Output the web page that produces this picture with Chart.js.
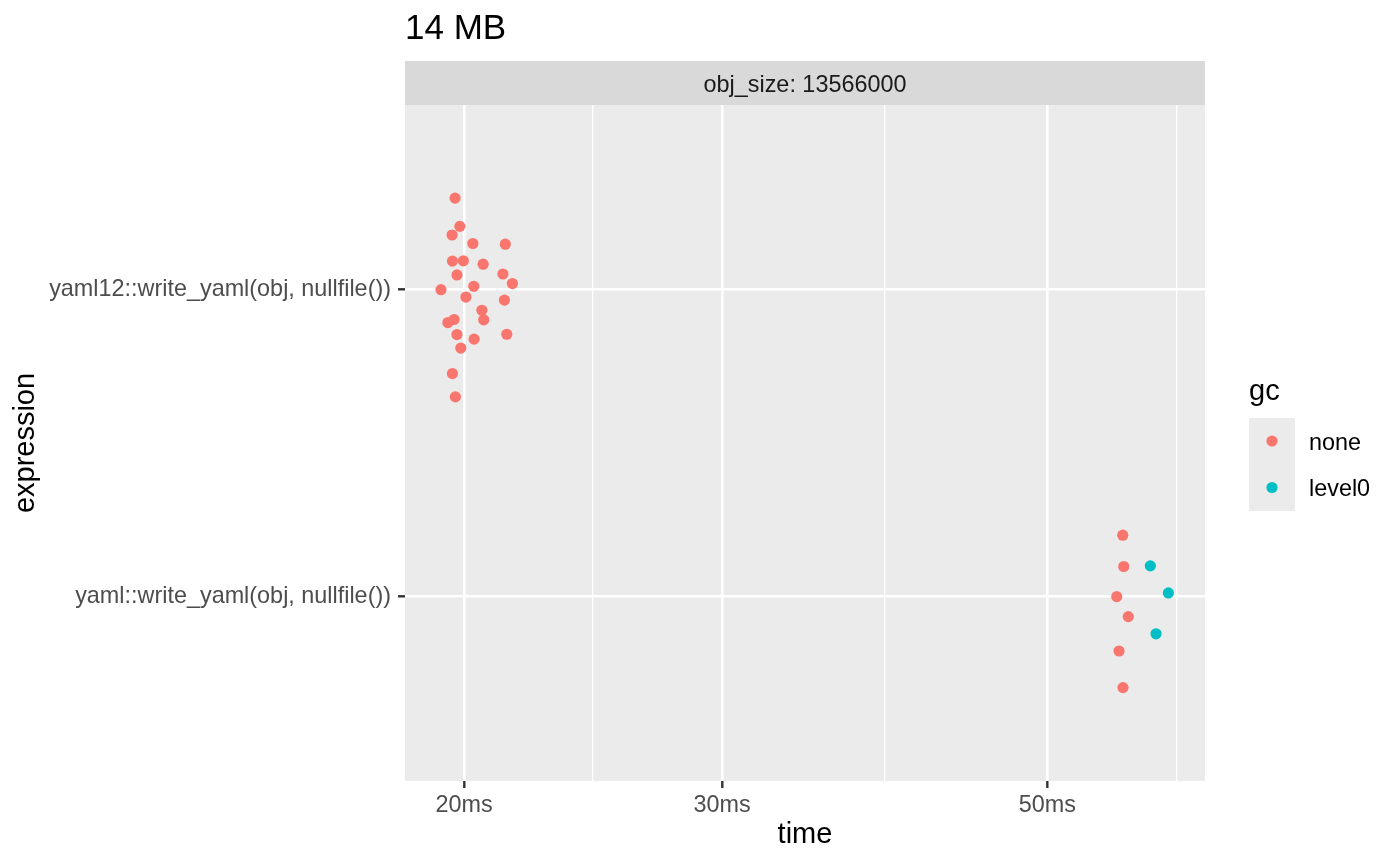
<!DOCTYPE html>
<html>
<head>
<meta charset="utf-8">
<title>14 MB</title>
<script src="https://cdn.jsdelivr.net/npm/chart.js@4.4.0/dist/chart.umd.min.js"></script>
<style>
  html, body { margin: 0; padding: 0; background: #fff; }
  #wrap { width: 1400px; height: 865px; }
</style>
</head>
<body>
<div id="wrap"><canvas id="chart" width="1400" height="865"></canvas></div>
<script>
const plotTitle = "14 MB";
const stripLabel = "obj_size: 13566000";

// y categories, bottom to top (1 = yaml, 2 = yaml12)
const categories = ["yaml::write_yaml(obj, nullfile())", "yaml12::write_yaml(obj, nullfile())"];

// x axis (log scale), values in ms
const xMajorTicks = [20, 30, 50];
const xMajorLabels = ["20ms", "30ms", "50ms"];
const xMinorTicks = [24.49, 38.73, 61.24];

// gc legend
const gcLevels = ["none", "level0"];
const gcColors = ["#F8766D", "#00BFC4"];

// yaml12::write_yaml timings (ms) and vertical jitter around the category
const yaml12Time = [19.72, 19.87, 19.63, 20.28, 21.34, 19.64, 19.98, 20.61, 19.78, 21.26,
                    21.58, 19.29, 20.31, 20.06, 21.31, 20.57, 20.63, 19.50, 19.69, 19.78,
                    20.32, 21.39, 19.90, 19.64, 19.73];
const yaml12Jitter = [0.297, 0.205, 0.177, 0.149, 0.147, 0.092, 0.093, 0.082, 0.047, 0.050,
                      0.019, -0.001, 0.010, -0.025, -0.035, -0.068, -0.099, -0.108, -0.098, -0.147,
                      -0.162, -0.146, -0.191, -0.274, -0.350];
const yaml12Gc = Array(25).fill("none");

// yaml::write_yaml timings (ms)
const yamlTime = [56.28, 56.37, 55.75, 56.77, 55.95, 56.30, 58.77, 60.46, 59.30];
const yamlJitter = [0.200, 0.098, 0.000, -0.065, -0.177, -0.296, 0.100, 0.012, -0.121];
const yamlGc = ["none", "none", "none", "none", "none", "none", "level0", "level0", "level0"];

const FONT = '"Liberation Sans", Arial, Helvetica, sans-serif';
Chart.defaults.font.family = FONT;

function pointsFor(level) {
    const pts = [];
    yaml12Time.forEach((t, i) => { if (yaml12Gc[i] === level) pts.push({ x: t, y: 2 + yaml12Jitter[i] }); });
    yamlTime.forEach((t, i) => { if (yamlGc[i] === level) pts.push({ x: t, y: 1 + yamlJitter[i] }); });
    return pts;
}

const datasets = gcLevels.map((lvl, i) => ({
    label: lvl,
    data: pointsFor(lvl),
    backgroundColor: gcColors[i],
    borderWidth: 0,
    pointRadius: 5.6,
    pointHoverRadius: 5.6
}));

const xGrid = xMajorTicks.concat(xMinorTicks).sort((a, b) => a - b);
const isMajor = v => xMajorTicks.some(m => Math.abs(m - v) < 1e-6);

// panel, strip, title and legend in ggplot style
const ggDecor = {
    id: 'ggDecor',
    beforeDraw(chart) {
        const { ctx, chartArea: a } = chart;
        ctx.save();
        ctx.fillStyle = '#EBEBEB';
        ctx.fillRect(a.left, a.top, a.right - a.left, a.bottom - a.top);

        ctx.fillStyle = '#D9D9D9';
        ctx.fillRect(a.left, 61, a.right - a.left, a.top - 61);
        ctx.fillStyle = '#1A1A1A';
        ctx.font = '23.4px ' + FONT;
        ctx.textAlign = 'center';
        ctx.textBaseline = 'alphabetic';
        ctx.fillText(stripLabel, (a.left + a.right) / 2, 91.5);

        ctx.fillStyle = '#000';
        ctx.font = '35px ' + FONT;
        ctx.textAlign = 'left';
        ctx.fillText(plotTitle, a.left, 38.5);

        // legend
        ctx.font = '29px ' + FONT;
        ctx.fillText('gc', 1249, 400);
        ctx.fillStyle = '#EBEBEB';
        ctx.fillRect(1249, 418, 46, 93);
        ctx.font = '23.4px ' + FONT;
        gcLevels.forEach((lvl, i) => {
            const cy = 441 + i * 46.5;
            ctx.fillStyle = gcColors[i];
            ctx.beginPath();
            ctx.arc(1272, cy, 5.6, 0, Math.PI * 2);
            ctx.fill();
            ctx.fillStyle = '#000';
            ctx.fillText(lvl, 1309, cy + 8.5);
        });
        ctx.restore();
    }
};

new Chart(document.getElementById('chart'), {
    type: 'scatter',
    data: { datasets },
    options: {
        responsive: false,
        animation: false,
        layout: { padding: { left: 0, right: 195, top: 105, bottom: 0 } },
        plugins: { legend: { display: false }, tooltip: { enabled: false } },
        scales: {
            x: {
                type: 'logarithmic',
                bounds: 'data',
                min: 18.23,
                max: 64.04,
                afterBuildTicks: s => { s.ticks = xGrid.map(v => ({ value: v })); },
                afterFit: s => { s.height = 84; },
                ticks: {
                    autoSkip: false,
                    maxRotation: 0,
                    padding: 3.5,
                    color: '#4D4D4D',
                    font: { size: 23.4 },
                    callback: v => {
                        const k = xMajorTicks.findIndex(m => Math.abs(m - v) < 1e-6);
                        return k >= 0 ? xMajorLabels[k] : '';
                    }
                },
                grid: {
                    color: '#FFFFFF',
                    lineWidth: c => (c.tick && isMajor(c.tick.value)) ? 2.6 : 1.3,
                    tickColor: c => (c.tick && isMajor(c.tick.value)) ? '#333333' : 'rgba(0,0,0,0)',
                    tickLength: 7,
                    tickWidth: 2.4
                },
                border: { display: false },
                title: {
                    display: true,
                    text: 'time',
                    color: '#000',
                    font: { size: 29 },
                    padding: { top: 0, bottom: 12.5 }
                }
            },
            y: {
                type: 'linear',
                bounds: 'data',
                min: 0.4,
                max: 2.6,
                afterBuildTicks: s => { s.ticks = categories.map((c, i) => ({ value: i + 1 })); },
                afterFit: s => { s.width = 405; },
                ticks: {
                    padding: 7,
                    color: '#4D4D4D',
                    font: { size: 23.4 },
                    callback: v => categories[Math.round(v) - 1]
                },
                grid: {
                    color: '#FFFFFF',
                    lineWidth: 2.6,
                    tickColor: '#333333',
                    tickLength: 7,
                    tickWidth: 2.4
                },
                border: { display: false },
                title: {
                    display: true,
                    text: 'expression',
                    color: '#000',
                    font: { size: 29 },
                    padding: { top: 8.5, bottom: 0 }
                }
            }
        }
    },
    plugins: [ggDecor]
});
</script>
</body>
</html>
